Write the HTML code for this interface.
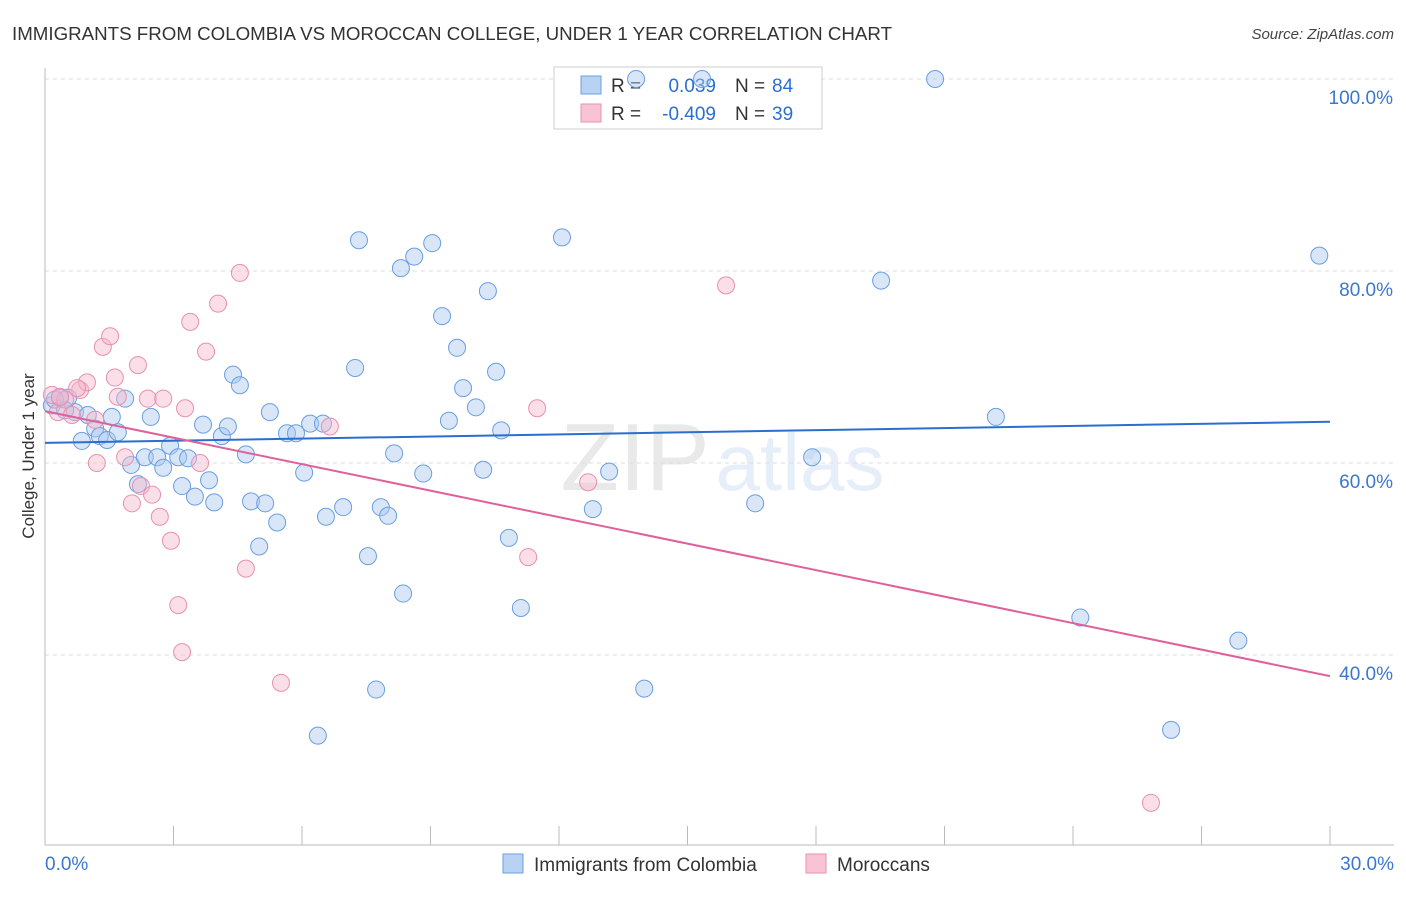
<!DOCTYPE html>
<html><head><meta charset="utf-8"><style>
body{margin:0;background:#fff;font-family:"Liberation Sans",sans-serif;}
svg text{font-family:"Liberation Sans",sans-serif;}
</style></head><body>
<svg id="chart" width="1406" height="892" viewBox="0 0 1406 892" xmlns="http://www.w3.org/2000/svg">
<text x="12" y="40" font-size="18" fill="#333" textLength="880" lengthAdjust="spacingAndGlyphs">IMMIGRANTS FROM COLOMBIA VS MOROCCAN COLLEGE, UNDER 1 YEAR CORRELATION CHART</text>
<text x="1394" y="39" font-size="15" fill="#444" text-anchor="end" font-style="italic">Source: ZipAtlas.com</text>
<g opacity="0.12">
<text x="635" y="490" font-size="96" font-family="Liberation Serif" fill="#555" text-anchor="middle">ZIP</text>
<text x="800" y="490" font-size="80" fill="#3a78d0" text-anchor="middle">atlas</text>
</g>
<g id="grid"></g><g id="axes"></g>
<g>
<rect x="554" y="67" width="268" height="62" fill="#fff" stroke="#ccc"/>
<rect x="581" y="76" width="20" height="18" fill="#b8d2f4" stroke="#6a9fe0"/>
<rect x="581" y="104" width="20" height="18" fill="#f8c4d4" stroke="#e890b0"/>
<text x="611" y="92" font-size="19" fill="#333">R =</text>
<text x="716" y="92" font-size="19" fill="#2a6fd0" text-anchor="end">0.039</text>
<text x="735" y="92" font-size="19" fill="#333">N =</text>
<text x="772" y="92" font-size="19" fill="#2a6fd0">84</text>
<text x="611" y="120" font-size="19" fill="#333">R =</text>
<text x="716" y="120" font-size="19" fill="#2a6fd0" text-anchor="end">-0.409</text>
<text x="735" y="120" font-size="19" fill="#333">N =</text>
<text x="772" y="120" font-size="19" fill="#2a6fd0">39</text>
</g>
<g id="marks"></g>
<text transform="translate(34,456) rotate(-90)" font-size="17" fill="#333" text-anchor="middle">College, Under 1 year</text>
<g>
<rect x="503" y="854" width="20" height="19" fill="#b8d2f4" stroke="#6a9fe0"/>
<text x="534" y="871" font-size="19" fill="#333">Immigrants from Colombia</text>
<rect x="806" y="854" width="20" height="19" fill="#f8c4d4" stroke="#e890b0"/>
<text x="837" y="871" font-size="19" fill="#333">Moroccans</text>
</g>
</svg>
<script>
const xTicks=[0,30];
const yTicks=[40,60,80,100];
const blueX=[0.16,0.35,0.54,0.70,0.86,1.00,1.17,1.28,1.45,1.56,1.70,1.87,2.01,2.17,2.33,2.47,2.62,2.76,2.92,3.11,3.20,3.34,3.50,3.69,3.83,3.95,4.13,4.27,4.39,4.55,4.69,4.81,5.00,5.14,5.25,5.42,5.65,5.86,6.05,6.19,6.37,6.49,6.56,6.96,7.24,7.33,7.54,7.73,7.84,8.01,8.15,8.31,8.36,8.62,8.83,9.04,9.27,9.43,9.62,9.76,10.06,10.23,10.34,10.53,10.65,10.83,11.11,12.07,12.79,13.17,13.80,13.99,15.34,16.58,17.91,19.52,20.78,22.20,24.17,26.29,27.86,29.75,0.23,0.47];
const blueY=[66.0,66.8,66.8,65.3,62.3,65.0,63.6,62.8,62.4,64.8,63.2,66.7,59.8,57.8,60.6,64.8,60.6,59.5,61.8,60.6,57.6,60.5,56.5,64.0,58.2,55.9,62.8,63.8,69.2,68.1,60.9,56.0,51.3,55.8,65.3,53.8,63.1,63.1,59.0,64.1,31.6,64.1,54.4,55.4,69.9,83.2,50.3,36.4,55.4,54.5,61.0,80.3,46.4,81.5,58.9,82.9,75.3,64.4,72.0,67.8,65.8,59.3,77.9,69.5,63.4,52.2,44.9,83.5,55.2,59.1,100,36.5,100,55.8,60.6,79.0,100,64.8,43.9,32.2,41.5,81.6,66.6,65.5];
const pinkX=[0.16,0.30,0.47,0.63,0.82,0.98,1.21,1.35,1.52,1.63,1.70,1.87,2.03,2.17,2.24,2.40,2.50,2.68,2.76,2.94,3.11,3.20,3.27,3.39,3.62,3.76,4.04,4.55,4.69,5.51,6.65,11.49,11.28,12.68,15.90,25.82,0.35,0.75,1.17];
const pinkY=[67.1,65.3,66.6,65.0,67.6,68.4,60.0,72.1,73.2,68.9,66.9,60.6,55.8,70.2,57.6,66.7,56.7,54.4,66.7,51.9,45.2,40.3,65.7,74.7,60.0,71.6,76.6,79.8,49.0,37.1,63.8,65.7,50.2,58.0,78.5,24.6,66.9,67.8,64.5];
const blueFit=[62.1,64.3];
const pinkFit=[65.4,37.8];
const NS='http://www.w3.org/2000/svg';
const X0=45,X1=1330,YT=79;
function sx(v){return X0+(v/30)*(X1-X0);}
function sy(v){return YT+(100-v)*9.6;}
function mk(tag,attrs,parent){const e=document.createElementNS(NS,tag);for(const k in attrs)e.setAttribute(k,attrs[k]);document.getElementById(parent).appendChild(e);return e;}
yTicks.forEach(t=>{
 const g=mk('line',{x1:X0,x2:1394,y1:sy(t),y2:sy(t),stroke:'#ddd','stroke-dasharray':'4,4'},'grid');
 
 
 const l=mk('text',{x:1393,y:sy(t)+25,'font-size':19,fill:'#3a78d0','text-anchor':'end'},'axes');
 l.textContent=t.toFixed(1)+'%';
 
 
});
const ax=mk('line',{x1:X0,x2:X0,y1:68,y2:845,stroke:'#bbb'},'axes');


const bx=mk('line',{x1:X0,x2:1394,y1:845,y2:845,stroke:'#bbb'},'axes');


for(let i=0;i<=10;i++){
 const t=mk('line',{x1:sx(i*3),x2:sx(i*3),y1:826,y2:845,stroke:'#bbb'},'axes');
 
 
}
xTicks.forEach((t,i)=>{
 const l=mk('text',{x:i==0?45:1394,y:870,'font-size':19,fill:'#3a78d0','text-anchor':i==0?'start':'end'},'axes');
 l.textContent=t.toFixed(1)+'%';
 
 
});
function pts(xs,ys,fill,stroke,name){
 xs.forEach((x,i)=>{
  const c=mk('circle',{cx:sx(x),cy:sy(ys[i]),r:8.5,fill:fill,'fill-opacity':0.45,stroke:stroke,'stroke-width':1},'marks');
  
  
 });
}
pts(blueX,blueY,'#a8c8f0','#6a9fe0','colombia-point');
pts(pinkX,pinkY,'#f5b8cc','#e890b0','moroccan-point');
const bl=mk('line',{x1:sx(0),y1:sy(blueFit[0]),x2:sx(30),y2:sy(blueFit[1]),stroke:'#2a6fd0','stroke-width':2},'marks');


const pl=mk('line',{x1:sx(0),y1:sy(pinkFit[0]),x2:sx(30),y2:sy(pinkFit[1]),stroke:'#e0609a','stroke-width':2},'marks');


</script>
</body></html>
